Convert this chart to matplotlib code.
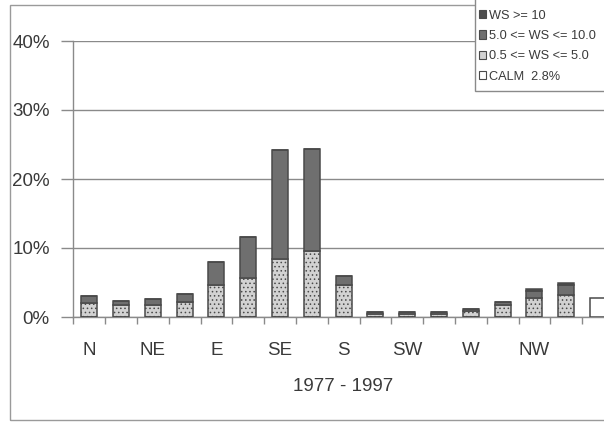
import matplotlib
matplotlib.use("Agg")
import matplotlib.pyplot as plt
from matplotlib.patches import Rectangle, Patch
import numpy as np

# Wind direction frequencies (% of observations), 1977 - 1997
directions = ["N", "NNE", "NE", "ENE", "E", "ESE", "SE", "SSE",
              "S", "SSW", "SW", "WSW", "W", "WNW", "NW", "NNW", "CALM"]
tick_labels = ["N", "", "NE", "", "E", "", "SE", "", "S", "", "SW", "", "W", "", "NW", "", ""]
ws_low = [2.0, 1.8, 1.8, 2.2, 4.6, 5.6, 8.4, 9.5, 4.6, 0.4, 0.4, 0.4, 0.8, 1.7, 2.7, 3.2, 0.0]     # 0.5 <= WS <= 5.0
ws_mid = [1.0, 0.5, 0.75, 1.2, 3.3, 6.0, 15.8, 14.9, 1.3, 0.3, 0.3, 0.3, 0.3, 0.5, 1.1, 1.5, 0.0]  # 5.0 <= WS <= 10.0
ws_high = [0.0, 0.0, 0.0, 0.0, 0.0, 0.0, 0.0, 0.0, 0.0, 0.0, 0.0, 0.0, 0.0, 0.0, 0.3, 0.3, 0.0]   # WS >= 10
calm = [0.0] * 16 + [2.8]
year_range = "1977 - 1997"

W, H = 604, 422
plt.rcParams["font.family"] = ["Liberation Sans", "DejaVu Sans"]
plt.rcParams["hatch.color"] = "#bcbcbc"
plt.rcParams["hatch.linewidth"] = 0.6
fig = plt.figure(figsize=(W / 100, H / 100), dpi=100)
fig.patch.set_facecolor("white")

text_c = "#3a3a3a"
line_c = "#8a8a8a"
edge_c = "#4a4a4a"
c_high = "#4d4d4d"
c_mid = "#6f6f6f"
c_low = "#d2d2d2"

# outer frame
fig.patches.append(Rectangle((10 / W, 1 - 420 / H), 700 / W, 415 / H,
                             transform=fig.transFigure, fill=False,
                             edgecolor="#9a9a9a", lw=1.0))

# axes spans 17 slots; the last one runs past the right edge
left_px, slot_px = 73.3, 31.8
right_px = left_px + 17 * slot_px
ax = fig.add_axes([left_px / W, 1 - 317 / H, (right_px - left_px) / W, (317 - 41) / H])

x = np.arange(len(directions))
bw = 0.5
low = np.array(ws_low)
mid = np.array(ws_mid)
high = np.array(ws_high)
cal = np.array(calm)

ax.bar(x, low, bw, color=c_low, edgecolor=edge_c, lw=1.1, hatch="....", zorder=3)
ax.bar(x, mid, bw, bottom=low, color=c_mid, edgecolor=edge_c, lw=1.1, zorder=3)
ax.bar(x, high, bw, bottom=low + mid, color=c_high, edgecolor=edge_c, lw=1.1, zorder=3)
ax.bar(x, cal, bw, color="white", edgecolor=edge_c, lw=1.1, zorder=3)

ax.set_xlim(-0.5, len(directions) - 0.5)
ax.set_ylim(0, 40)
ax.set_yticks([0, 10, 20, 30, 40])
ax.set_yticklabels(["0%", "10%", "20%", "30%", "40%"])
ax.yaxis.grid(True, color=line_c, lw=1.0, zorder=0)
ax.set_axisbelow(True)

for s in ["top", "right"]:
    ax.spines[s].set_visible(False)
for s in ["left", "bottom"]:
    ax.spines[s].set_color(line_c)
    ax.spines[s].set_linewidth(1.0)

ax.tick_params(axis="y", length=9, width=1.0, color=line_c, labelsize=13.5,
               labelcolor=text_c, pad=8)
# ticks at slot boundaries, labels at slot centres
ax.set_xticks(np.arange(len(directions)) - 0.5, minor=False)
ax.set_xticklabels([""] * len(directions))
ax.set_xticks(x, minor=True)
ax.set_xticklabels(tick_labels, minor=True)
ax.tick_params(axis="x", which="major", length=5, width=1.0, color=line_c)
ax.tick_params(axis="x", which="minor", length=0, labelsize=13.5, labelcolor=text_c, pad=18)
ax.set_xlabel(year_range, fontsize=13.5, color=text_c, labelpad=14)

# legend box runs off the right edge
fig.patches.append(Rectangle((475 / W, 1 - 91 / H), 300 / W, 100 / H,
                             transform=fig.transFigure, facecolor="white",
                             edgecolor="#8a8a8a", lw=1.0, zorder=5))
handles = [Patch(facecolor=c_high, edgecolor=edge_c, lw=0.8),
           Patch(facecolor=c_mid, edgecolor=edge_c, lw=0.8),
           Patch(facecolor=c_low, edgecolor=edge_c, lw=0.8),
           Patch(facecolor="white", edgecolor=edge_c, lw=0.8)]
labels = ["WS >= 10", "5.0 <= WS <= 10.0", "0.5 <= WS <= 5.0", "CALM  2.8%"]
leg = fig.legend(handles, labels, loc="upper left", bbox_to_anchor=(476 / W, 1 - 7 / H),
                 bbox_transform=fig.transFigure, fontsize=9.2, frameon=False,
                 handlelength=0.6, handleheight=0.6, handletextpad=0.25,
                 labelspacing=0.66, borderpad=0.2, borderaxespad=0)
leg.set_zorder(6)
for t in leg.get_texts():
    t.set_color(text_c)

fig.savefig("out.png", dpi=100)
